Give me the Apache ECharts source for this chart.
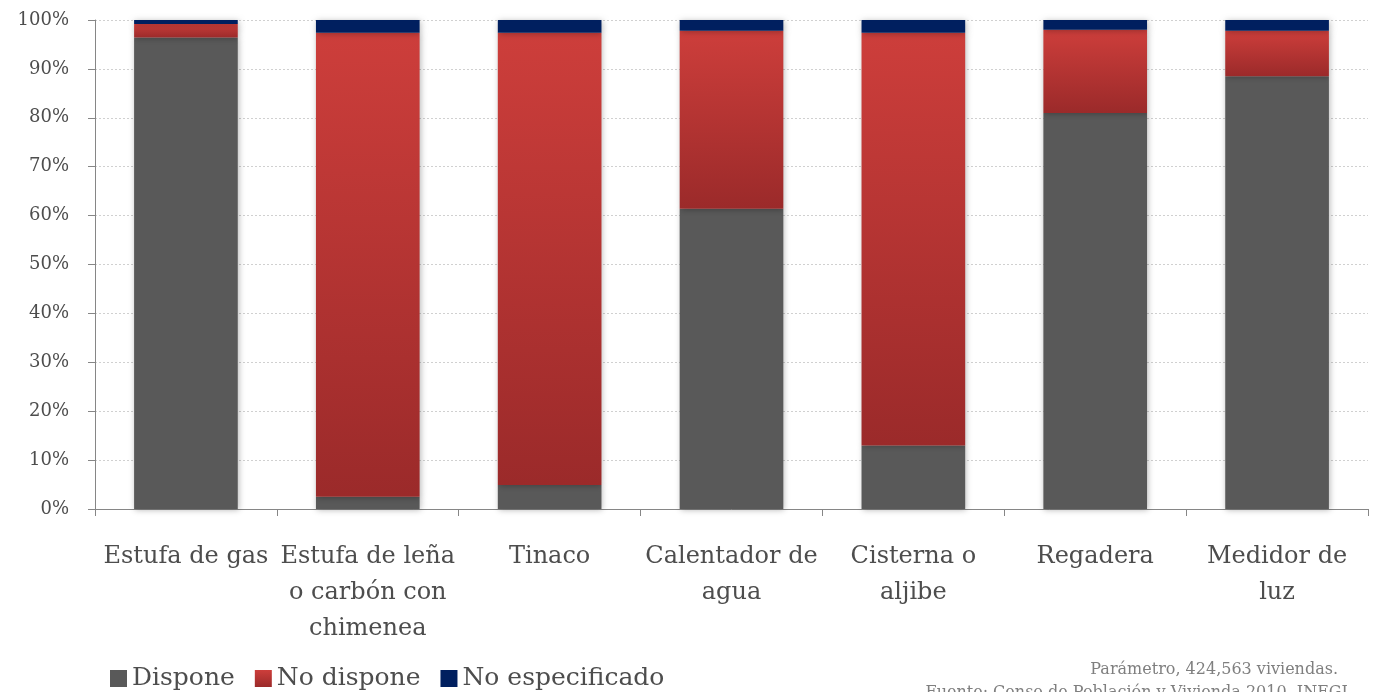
<!DOCTYPE html>
<html><head><meta charset="utf-8">
<script src="https://cdn.jsdelivr.net/npm/echarts@6/dist/echarts.min.js"></script>
<style>html,body{margin:0;padding:0;background:#fff}#c{width:1373px;height:692px}</style>
</head><body><div id="c"></div>
<script>
const categories = ['Estufa de gas', 'Estufa de leña\no carbón con\nchimenea', 'Tinaco', 'Calentador de\nagua', 'Cisterna o\naljibe', 'Regadera', 'Medidor de\nluz'];
const dispone = [96.4, 2.5, 4.9, 61.4, 13.0, 81.0, 88.5];
const noDispone = [2.8, 94.9, 92.5, 36.4, 84.4, 17.0, 9.3];
const noEspecificado = [0.8, 2.6, 2.6, 2.2, 2.6, 2.0, 2.2];
const yTicks = [0, 10, 20, 30, 40, 50, 60, 70, 80, 90, 100];
const footnote1 = 'Parámetro, 424,563 viviendas.';
const footnote2 = 'Fuente: Censo de Población y Vivienda 2010. INEGI.';

const chart = echarts.init(document.getElementById('c'));
const font = '"DejaVu Serif", "Liberation Serif", serif';
const shadow = {shadowBlur: 6, shadowColor: 'rgba(0,0,0,0.28)', shadowOffsetX: 1, shadowOffsetY: 1};
const redGrad = new echarts.graphic.LinearGradient(0, 0, 0, 1, [
  {offset: 0, color: '#CD3E3B'}, {offset: 1, color: '#9B2A2A'}
]);
chart.setOption({
  animation: false,
  textStyle: {fontFamily: font},
  grid: {left: 95, right: 5, top: 20, bottom: 183},
  legend: {
    left: 110, top: 666, padding: 0, itemWidth: 17, itemHeight: 17, itemGap: 20, icon: 'rect',
    textStyle: {fontFamily: font, fontSize: 25, color: '#4D4D4D'},
    data: ['Dispone', 'No dispone', 'No especificado']
  },
  xAxis: {
    type: 'category', data: categories,
    axisLine: {lineStyle: {color: '#868686'}},
    axisTick: {show: true, length: 7, lineStyle: {color: '#868686'}},
    axisLabel: {fontFamily: font, fontSize: 24, color: '#4D4D4D', lineHeight: 36, margin: 30, interval: 0}
  },
  yAxis: {
    type: 'value', min: 0, max: 100, interval: 10,
    axisLine: {show: true, lineStyle: {color: '#868686'}},
    axisTick: {show: true, length: 7, lineStyle: {color: '#868686'}},
    axisLabel: {fontFamily: font, fontSize: 18, color: '#4D4D4D', margin: 26,
      formatter: v => yTicks.includes(v) ? v + '%' : ''},
    splitLine: {lineStyle: {color: '#D0D0D0', type: [2, 2]}}
  },
  series: [
    {name: 'Dispone', type: 'bar', stack: 't', barWidth: '57%', data: dispone,
      itemStyle: Object.assign({color: '#595959'}, shadow)},
    {name: 'No dispone', type: 'bar', stack: 't', data: noDispone,
      itemStyle: Object.assign({color: redGrad}, shadow)},
    {name: 'No especificado', type: 'bar', stack: 't', data: noEspecificado,
      itemStyle: Object.assign({color: '#001F5F'}, shadow)}
  ],
  graphic: [
    {type: 'text', right: 35, top: 662, style: {text: footnote1, font: '16px ' + font, fill: '#7F7F7F', textAlign: 'right'}},
    {type: 'text', right: 20, top: 685, style: {text: footnote2, font: '16px ' + font, fill: '#7F7F7F', textAlign: 'right'}}
  ]
});
</script></body></html>
